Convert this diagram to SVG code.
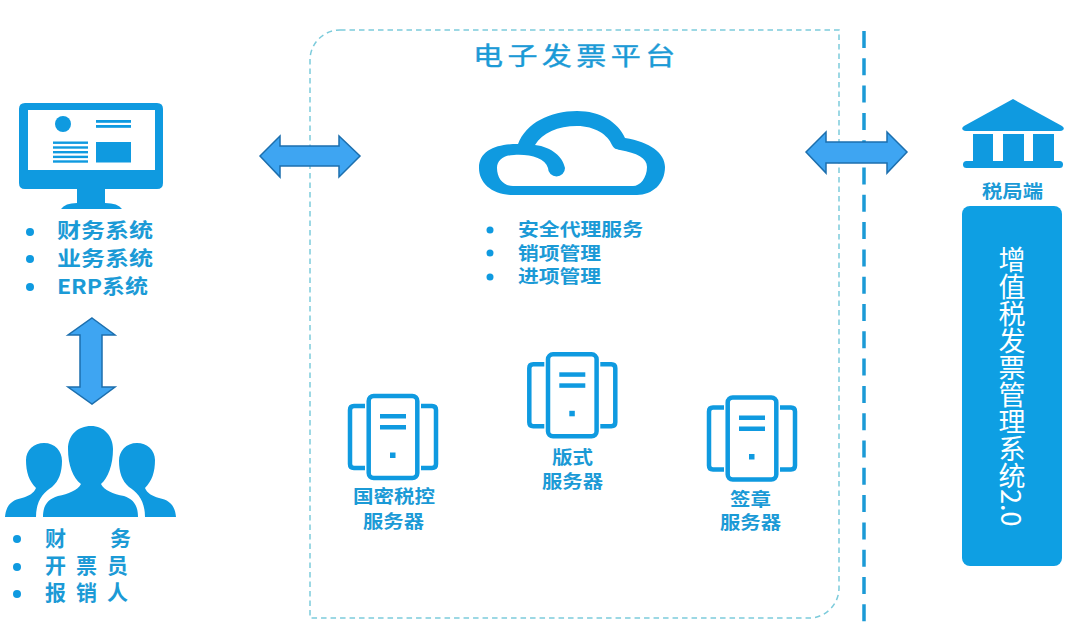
<svg xmlns="http://www.w3.org/2000/svg" xmlns:xlink="http://www.w3.org/1999/xlink" width="1080" height="624" viewBox="0 0 1080 624">
  <style>
    .ink { fill: #0f9ae0; }
    .label { fill: #1b9ad6; font-family: "Noto Sans CJK SC", "Noto Sans", "Liberation Sans", sans-serif; font-weight: 700; }
    .l20 { font-size: 20px; }
    .l18 { font-size: 18px; }
    .arrow { fill: #3ea5f2; stroke: #1c6fae; stroke-width: 1.5; stroke-linejoin: miter; }
  </style>
  <defs>
    <!-- Rack server glyph: centre cabinet with a bracket on either side -->
    <g id="server">
      <rect x="368.7" y="396" width="48.6" height="82" rx="5" fill="none" stroke="#0f9ae0" stroke-width="4.5"/>
      <path d="M365 406H354Q350 406 350 410V464Q350 468 354 468H365M421 406H432Q436 406 436 410V464Q436 468 432 468H421" fill="none" stroke="#0f9ae0" stroke-width="4.5"/>
      <rect x="380" y="414" width="26" height="4.5" class="ink"/>
      <rect x="380" y="425" width="26" height="4.5" class="ink"/>
      <rect x="390" y="452.5" width="5.5" height="5.5" class="ink"/>
    </g>
  </defs>
  <rect width="1080" height="624" fill="#ffffff"/>

  <g id="connectors">
    <!-- Platform outline and the boundary towards the tax side -->
    <path d="M340 30H839V588A30 30 0 0 1 809 618H310V60A30 30 0 0 1 340 30Z" fill="none" stroke="#7ccbdb" stroke-width="1.5" stroke-dasharray="5.5 4"/>
    <path d="M864 31V622" fill="none" stroke="#1b9ad6" stroke-width="3.5" stroke-dasharray="17 10.3"/>
    <path class="arrow" d="M260 156L280 136V146H339V136L360 156L339 177V166H280V177Z"/>
    <path class="arrow" d="M92 318L115 335H102V387H115L92 404L68 387H80V335H68Z"/>
    <path class="arrow" d="M806 152L826 132V142H887V132L907 152L887 173V163H826V173Z"/>
  </g>

  <g id="terminal">
    <path class="ink" d="M25 103H157Q163 103 163 109V183Q163 189 157 189H105V203Q118 203 122 209H61Q65 203 77 203V189H25Q19 189 19 183V109Q19 103 25 103Z"/>
    <rect x="28" y="110" width="127" height="60" fill="#ffffff"/>
    <circle cx="63" cy="124" r="8" class="ink"/>
    <rect x="96" y="120" width="35" height="2.800" class="ink"/>
    <rect x="96" y="125" width="35" height="2.800" class="ink"/>
    <rect x="53" y="141.500" width="35" height="2.400" class="ink"/>
    <rect x="53" y="146.300" width="35" height="2.400" class="ink"/>
    <rect x="53" y="151" width="35" height="2.400" class="ink"/>
    <rect x="53" y="155.700" width="35" height="2.400" class="ink"/>
    <rect x="53" y="160.300" width="35" height="2.400" class="ink"/>
    <rect x="96" y="142" width="35" height="20.500" class="ink"/>
    <circle cx="30" cy="232" r="4" class="ink"/>
    <circle cx="30" cy="259" r="4" class="ink"/>
    <circle cx="30" cy="287" r="4" class="ink"/>
    <text class="label l20" x="57" y="238" textLength="96" lengthAdjust="spacingAndGlyphs">财务系统</text>
    <text class="label l20" x="57" y="266" textLength="96" lengthAdjust="spacingAndGlyphs">业务系统</text>
    <text class="label l20" x="57" y="294" textLength="91" lengthAdjust="spacingAndGlyphs">ERP系统</text>
  </g>

  <g id="users">
    <path id="side-person" class="ink" d="M5 517C6 505 12 500 22 498C29 496 34 493 36 488C29 481 26 472 26 460C26 450 34 443 44 443C55 443 62 451 62 461C62 472 59 481 52 487C44 492 36 500 36 517Z"/>
    <use xlink:href="#side-person" href="#side-person" transform="matrix(-1 0 0 1 181 0)"/>
    <path class="ink" d="M43 517C43 505 48 499 58 496C68 494 78 490 81 484C73 478 68 465 68 449C68 435 78 426 91 426C104 426 113 436 113 449C113 465 108 478 101 484C104 490 113 494 124 496C133 499 138 505 138 517Z"/>
    <circle cx="17" cy="539" r="4" class="ink"/>
    <circle cx="17" cy="567" r="4" class="ink"/>
    <circle cx="17" cy="594" r="4" class="ink"/>
    <text class="label" font-size="21" x="45" y="546">财</text>
    <text class="label" font-size="21" x="110" y="546">务</text>
    <text class="label" font-size="21" y="573"><tspan x="45">开</tspan><tspan x="76">票</tspan><tspan x="107">员</tspan></text>
    <text class="label" font-size="21" y="600"><tspan x="45">报</tspan><tspan x="76">销</tspan><tspan x="107">人</tspan></text>
  </g>

  <g id="platform">
    <text transform="translate(473 65) scale(1.2 1)" fill="#1b9ad6" stroke="#1b9ad6" stroke-width="0.4" font-family="'Noto Sans CJK SC', 'Noto Sans', sans-serif" font-size="25" letter-spacing="3.700">电子发票平台</text>
    <path class="ink" d="M513 195C492 195 479 183 479 168C479 150 497 144 518 144C526 123 550 111 577 111C600 111 618 122 625 138C650 142 665 153 665 167C665 184 652 195 637 195Z"/>
    <path fill="#ffffff" d="M513 186C503 186 497 178 497 168C497 160 504 155 514 155C530 154 545 158 548 168A8.500 8.500 0 0 0 565 168C563 157 552 147 535 145C542 133 558 126 577 126C595 126 608 135 612 145C614 149 616 149 620 150C637 153 647 158 647 167C647 178 640 186 633 186Z"/>
    <circle cx="490" cy="230" r="3.500" class="ink"/>
    <circle cx="490" cy="253" r="3.500" class="ink"/>
    <circle cx="490" cy="277" r="3.500" class="ink"/>
    <text class="label l18" x="518" y="236" textLength="125" lengthAdjust="spacingAndGlyphs">安全代理服务</text>
    <text class="label l18" x="518" y="260" textLength="83" lengthAdjust="spacingAndGlyphs">销项管理</text>
    <text class="label l18" x="518" y="283" textLength="83" lengthAdjust="spacingAndGlyphs">进项管理</text>
  </g>

  <g id="server-crypto">
    <use xlink:href="#server" href="#server"/>
    <text class="label l18" x="353" y="503" textLength="82" lengthAdjust="spacingAndGlyphs">国密税控</text>
    <text class="label l18" x="363" y="528" textLength="61" lengthAdjust="spacingAndGlyphs">服务器</text>
  </g>
  <g id="server-layout">
    <use xlink:href="#server" href="#server" transform="translate(179.300 -41.700)"/>
    <text class="label l18" x="552" y="464" textLength="41" lengthAdjust="spacingAndGlyphs">版式</text>
    <text class="label l18" x="542" y="488" textLength="61" lengthAdjust="spacingAndGlyphs">服务器</text>
  </g>
  <g id="server-seal">
    <use xlink:href="#server" href="#server" transform="translate(359 1.500)"/>
    <text class="label l18" x="730" y="506" textLength="41" lengthAdjust="spacingAndGlyphs">签章</text>
    <text class="label l18" x="720" y="529" textLength="61" lengthAdjust="spacingAndGlyphs">服务器</text>
  </g>

  <g id="tax-office">
    <path class="ink" d="M1013 99L1062 126Q1065 128 1063 130Q1062 131 1060 131H966Q964 131 963 130Q961 128 964 126Z"/>
    <rect x="973" y="134" width="20" height="28" class="ink"/>
    <rect x="1003" y="134" width="21" height="28" class="ink"/>
    <rect x="1033" y="134" width="21" height="28" class="ink"/>
    <rect x="963" y="161" width="100" height="7" rx="3.500" class="ink"/>
    <text class="label l18" x="982" y="198" textLength="61" lengthAdjust="spacingAndGlyphs">税局端</text>
  </g>

  <g id="vat-system">
    <rect x="962" y="206" width="100" height="360" rx="8" fill="#0e9fe3"/>
    <text x="1012" y="246" fill="#ffffff" font-family="'Noto Sans CJK SC', 'Noto Sans', sans-serif" font-size="27" style="writing-mode: vertical-rl">增值税发票管理系统2.0</text>
  </g>
</svg>
